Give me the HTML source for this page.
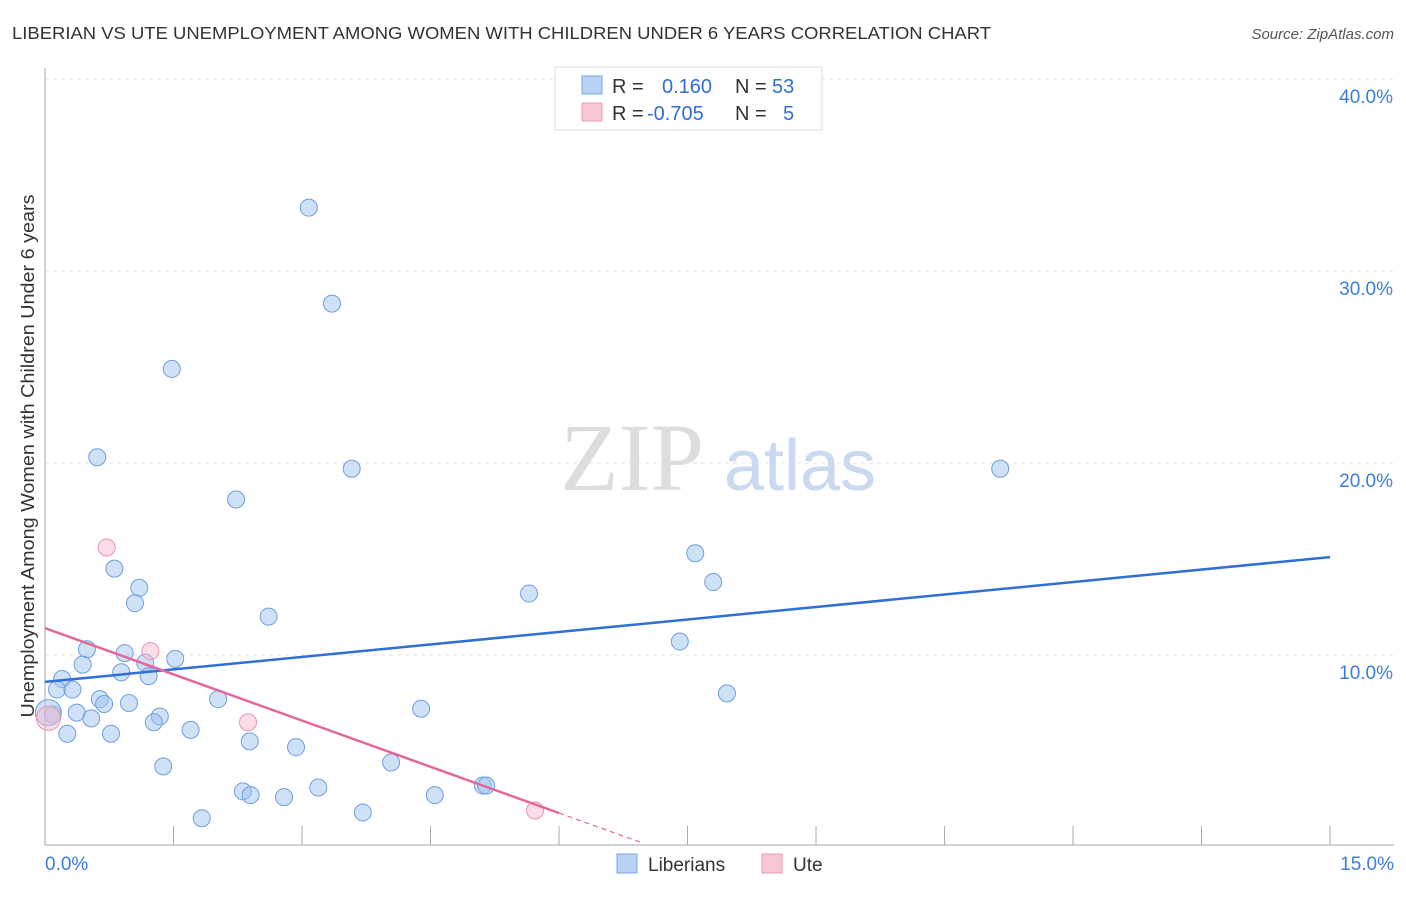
<!DOCTYPE html>
<html><head><meta charset="utf-8"><style>
body{margin:0;background:#fff;font-family:"Liberation Sans",sans-serif;}
</style></head><body>
<svg width="1406" height="892" xmlns="http://www.w3.org/2000/svg">
<text x="12" y="39" font-size="17.5" fill="#333" textLength="979" lengthAdjust="spacingAndGlyphs">LIBERIAN VS UTE UNEMPLOYMENT AMONG WOMEN WITH CHILDREN UNDER 6 YEARS CORRELATION CHART</text>
<text x="1394" y="39" font-size="15" fill="#555" font-style="italic" text-anchor="end">Source: ZipAtlas.com</text>
<g id="grid"></g>
<text x="632" y="490" font-size="96" fill="#ddd" font-family="Liberation Serif" text-anchor="middle">ZIP</text>
<text x="800" y="490" font-size="72" fill="#c9d9f0" text-anchor="middle">atlas</text>
<g id="axes"></g>
<g id="pts"></g>
<g id="lines"></g>
<text transform="translate(34,456) rotate(-90)" font-size="18" fill="#333" text-anchor="middle" textLength="523" lengthAdjust="spacingAndGlyphs">Unemployment Among Women with Children Under 6 years</text>
<g>
<rect x="555" y="67" width="267" height="63" fill="#fff" stroke="#ddd"/>
<rect x="582" y="76" width="20" height="18" fill="#b8d2f5" stroke="#7aa6e6"/>
<rect x="582" y="103" width="20" height="18" fill="#f9c6d4" stroke="#ee9ab2"/>
<text x="612" y="93" font-size="20" fill="#333">R = <tspan fill="#2f6fd6" x="662">0.160</tspan><tspan fill="#333" x="735">N = </tspan><tspan fill="#2f6fd6" x="772">53</tspan></text>
<text x="612" y="120" font-size="20" fill="#333">R = <tspan fill="#2f6fd6" x="647">-0.705</tspan><tspan fill="#333" x="735">N = </tspan><tspan fill="#2f6fd6" x="783">5</tspan></text>
</g>
<g>
<rect x="617" y="854" width="20" height="19" fill="#b8d2f5" stroke="#7aa6e6"/>
<text x="648" y="871" font-size="19" fill="#333">Liberians</text>
<rect x="762" y="854" width="20" height="19" fill="#f9c6d4" stroke="#ee9ab2"/>
<text x="793" y="871" font-size="19" fill="#333">Ute</text>
</g>
</svg>
<script>
const yTicks=[10,20,30,40];
const yTickLabels=["10.0%","20.0%","30.0%","40.0%"];
const xTicks=[0,1.5,3,4.5,6,7.5,9,10.5,12,13.5,15];
const libX=[3.08,3.35,1.48,0.61,3.58,11.15,2.23,7.59,7.80,0.81,1.10,5.65,1.05,2.61,7.41,0.49,0.93,1.52,1.17,0.44,0.89,1.21,0.20,0.14,0.32,7.96,2.02,0.64,0.69,0.98,4.39,0.37,0.09,1.34,0.54,1.27,1.70,0.26,0.77,2.39,2.93,1.38,4.04,2.31,2.40,2.79,3.19,4.55,5.11,5.15,3.71,1.83,0.04];
const libY=[33.3,28.3,24.9,20.3,19.7,19.7,18.1,15.3,13.8,14.5,13.5,13.2,12.7,12.0,10.7,10.3,10.1,9.8,9.6,9.5,9.1,8.9,8.75,8.2,8.2,8.0,7.7,7.7,7.45,7.5,7.2,7.0,6.9,6.8,6.7,6.5,6.1,5.9,5.9,5.5,5.2,4.2,4.4,2.9,2.7,2.6,3.1,2.7,3.2,3.2,1.8,1.5,7.0];
const uteX=[0.72,1.23,2.37,5.72,0.04];
const uteY=[15.6,10.2,6.5,1.9,6.7];
const libTrend=[[0,8.6],[15,15.1]];
const uteTrend=[[0,11.4],[6.0,1.77],[6.95,0.25]];
const NS="http://www.w3.org/2000/svg";
const sx=v=>45+v*85.67, sy=v=>847-v*19.2;
function mk(t,a,p){const e=document.createElementNS(NS,t);for(const k in a)e.setAttribute(k,a[k]);p.appendChild(e);return e;}
const grid=document.getElementById('grid'),axes=document.getElementById('axes'),pts=document.getElementById('pts'),lines=document.getElementById('lines');
yTicks.forEach((v,i)=>{const l=mk('line',{x1:45,x2:1394,y1:sy(v),y2:sy(v),stroke:'#e3e3e3','stroke-dasharray':'4,4'},grid);


const t=mk('text',{x:1393,y:sy(v)+24,'font-size':19,fill:'#3d7dd8','text-anchor':'end'},axes);t.textContent=yTickLabels[i];

});
const ax=mk('line',{x1:45,x2:1394,y1:845,y2:845,stroke:'#aaa'},axes);


const ay=mk('line',{x1:45,x2:45,y1:68,y2:845,stroke:'#aaa'},axes);


xTicks.forEach(v=>{const l=mk('line',{x1:sx(v),x2:sx(v),y1:826,y2:845,stroke:'#aaa'},axes);

});
const x0=mk('text',{x:45,y:870,'font-size':19,fill:'#3d7dd8'},axes);x0.textContent='0.0%';


const x1=mk('text',{x:1394,y:870,'font-size':19,fill:'#3d7dd8','text-anchor':'end'},axes);x1.textContent='15.0%';


libX.forEach((v,i)=>{const c=mk('circle',{cx:sx(v),cy:sy(libY[i]),r:i==libX.length-1?13:8.5,fill:'rgba(160,196,240,0.5)',stroke:'#6f9fe0','stroke-width':1},pts);

});
uteX.forEach((v,i)=>{const c=mk('circle',{cx:sx(v),cy:sy(uteY[i]),r:i==uteX.length-1?12:8.5,fill:'rgba(248,188,206,0.5)',stroke:'#ec94ae','stroke-width':1},pts);

});
const lb=mk('line',{x1:sx(libTrend[0][0]),y1:sy(libTrend[0][1]),x2:sx(libTrend[1][0]),y2:sy(libTrend[1][1]),stroke:'#2f6fd6','stroke-width':2.5},lines);


const lu=mk('line',{x1:sx(uteTrend[0][0]),y1:sy(uteTrend[0][1]),x2:sx(uteTrend[1][0]),y2:sy(uteTrend[1][1]),stroke:'#e5679a','stroke-width':2.5},lines);


const ld=mk('line',{x1:sx(uteTrend[1][0]),y1:sy(uteTrend[1][1]),x2:sx(uteTrend[2][0]),y2:sy(uteTrend[2][1]),stroke:'#e5679a','stroke-width':1.2,'stroke-dasharray':'5,4'},lines);


</script>
</body></html>
